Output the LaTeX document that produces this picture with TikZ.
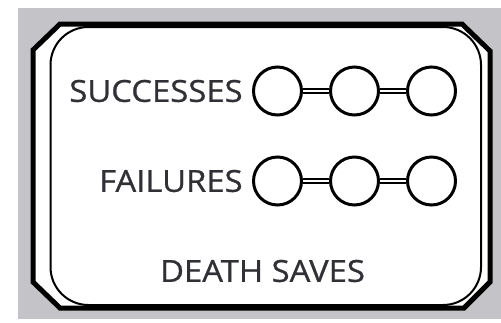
\documentclass[tikz,border=0pt]{standalone}
\usepackage{fontspec}
\setmainfont{Open Sans}
\newfontfamily\capfont{Open Sans}[FakeStretch=1.08, FakeBold=0.8]
\usepackage{xcolor}
\usepackage{tikz}
\usetikzlibrary{positioning,calc}

\definecolor{sheetgray}{RGB}{196,196,200}
\definecolor{inkgray}{RGB}{48,48,54}

\begin{document}
\begin{tikzpicture}[
    x=0.5pt, y=-0.5pt,
    node distance=13pt,
    savebox/.style={circle, draw=black, line width=1.5pt, fill=white, minimum size=24pt, inner sep=0pt},
    caption/.style={inner sep=0pt, text=inkgray, font=\capfont\fontsize{15.2}{16}\selectfont},
    link/.style={draw=black, line width=0.9pt, double=white, double distance=1.2pt}
]
    \useasboundingbox (0,0) rectangle (501,322);
    \fill[sheetgray] (18,8) rectangle (501,319);

    % frame
    \draw[line width=2.5pt, fill=white, line join=miter]
        (60,24) -- (462,24) -- (490,51) -- (490,282) -- (464,308)
        -- (60,308) -- (33,282) -- (33,50) -- cycle;
    \draw[line width=1pt, rounded corners=19pt] (50.5,27) rectangle (481,305);

    % successes
    \node[savebox] (s1) at (277.5,91) {};
    \node[savebox, right=of s1] (s2) {};
    \node[savebox, right=of s2] (s3) {};
    \node[caption, left=4.5pt of s1] (succ) {SUCCESSES};

    % failures
    \node[savebox] (f1) at (277.5,181) {};
    \node[savebox, right=of f1] (f2) {};
    \node[savebox, right=of f2] (f3) {};
    \node[caption, left=4.5pt of f1] (fail) {FAILURES};

    \path[link] (s1) -- (s2) (s2) -- (s3);
    \path[link] (f1) -- (f2) (f2) -- (f3);

    \node[caption] (title) at (262.5,271) {DEATH SAVES};
\end{tikzpicture}
\end{document}
